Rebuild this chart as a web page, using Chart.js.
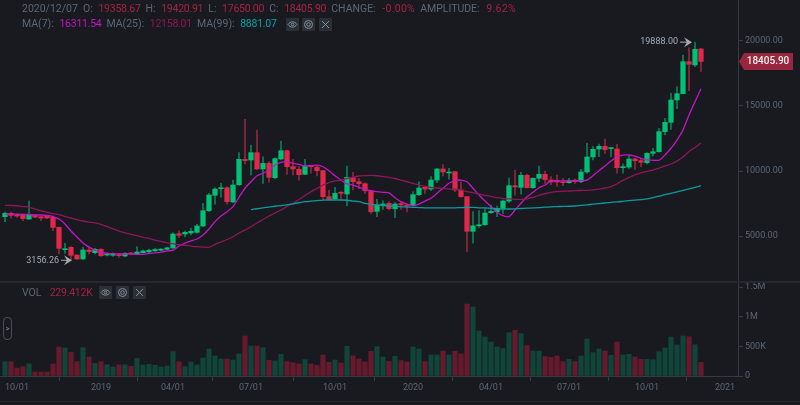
<!DOCTYPE html>
<html>
<head>
<meta charset="utf-8">
<title>BTC weekly</title>
<script src="https://cdn.jsdelivr.net/npm/chart.js@4"></script>
<style>
  html, body { margin: 0; padding: 0; background: #181a20; }
  #wrap { position: relative; width: 800px; height: 405px; overflow: hidden; background: #181a20;
          font-family: Roboto, "Open Sans", sans-serif; }
  canvas { position: absolute; left: 0; }
  #priceCanvas { top: 0; }
  #volCanvas { top: 283px; }
  .sep { position: absolute; left: 0; width: 800px; background: #25282f; }
  .row { position: absolute; left: 22px; font-size: 10.5px; line-height: 12px; color: #5e6673; white-space: nowrap; }
  .row b { font-weight: 400; color: #a5233f; margin: 0 5px 0 3px; letter-spacing: -.25px; }
  .row b.pct { letter-spacing: .3px; margin-left: 4px; }
  .btn { position: absolute; width: 13px; height: 13px; background: #2b2f36; border-radius: 1px; }
  .btn svg { display: block; }
  #expand { position: absolute; left: 3px; top: 317px; width: 7px; height: 21px; border: 1px solid #474d57;
            border-radius: 4px; color: #848e9c; font-size: 8px; line-height: 21px; text-align: center; }
</style>
</head>
<body>
<div id="wrap">
  <canvas id="priceCanvas" width="800" height="282"></canvas>
  <canvas id="volCanvas" width="800" height="122"></canvas>
  <div class="sep" style="top:281px;height:2px"></div>
  <div class="sep" style="top:401px;height:1px"></div>

  <div class="row" style="top:3px">2020/12/07&nbsp; O: <b>19358.67</b>H: <b>19420.91</b>L: <b>17650.00</b>C: <b>18405.90</b>CHANGE: <b class="pct">-0.00%</b>AMPLITUDE: <b class="pct">9.62%</b></div>
  <div class="row" style="top:18px">MA(7): <b style="color:#c414c6">16311.54</b>MA(25): <b style="color:#8f1650">12158.01</b>MA(99): <b style="color:#03a5a5">8881.07</b></div>
  <div class="row" style="top:287px">VOL&nbsp; <b>229.412K</b></div>

  <div class="btn" style="left:286px;top:18px"><svg width="13" height="13" viewBox="0 0 13 13" fill="none" stroke="#848e9c"><path d="M2 6.5c2.500-3.500 6.500-3.500 9 0c-2.500 3.500-6.500 3.500-9 0z"/><circle cx="6.500" cy="6.500" r="1.300"/></svg></div>
  <div class="btn" style="left:302px;top:18px"><svg width="13" height="13" viewBox="0 0 13 13" fill="none" stroke="#848e9c"><circle cx="6.500" cy="6.500" r="4"/><circle cx="6.500" cy="6.500" r="1.800"/></svg></div>
  <div class="btn" style="left:319px;top:18px"><svg width="13" height="13" viewBox="0 0 13 13" fill="none" stroke="#848e9c"><path d="M3 3l7 7M10 3l-7 7"/></svg></div>
  <div class="btn" style="left:99px;top:286px"><svg width="13" height="13" viewBox="0 0 13 13" fill="none" stroke="#848e9c"><path d="M2 6.5c2.500-3.500 6.500-3.500 9 0c-2.500 3.500-6.500 3.500-9 0z"/><circle cx="6.500" cy="6.500" r="1.300"/></svg></div>
  <div class="btn" style="left:116px;top:286px"><svg width="13" height="13" viewBox="0 0 13 13" fill="none" stroke="#848e9c"><circle cx="6.500" cy="6.500" r="4"/><circle cx="6.500" cy="6.500" r="1.800"/></svg></div>
  <div class="btn" style="left:133px;top:286px"><svg width="13" height="13" viewBox="0 0 13 13" fill="none" stroke="#848e9c"><path d="M3 3l7 7M10 3l-7 7"/></svg></div>
  <div id="expand">&gt;</div>
</div>

<script>
// weekly candles. first one is the week of 2018-09-17
const opens = [6500,6760,6650,6650,6320,6600,6500,6530,6450,5685,3970,4150,3560,3255,3945,3740,4000,3560,3540,3560,3485,3690,3640,3740,3800,3880,3930,4000,4100,5195,5170,5250,5300,5790,6960,8140,8650,8720,7630,8950,10900,10850,11410,10160,10590,9490,10925,11560,10335,10130,9750,10410,10290,10030,8035,7860,8340,8240,9520,9180,9030,8470,6910,7400,7525,7110,7500,7400,7400,8190,8750,8620,9310,10160,9850,9950,8550,8035,5380,5800,5885,6810,6880,7090,7700,8880,8750,9675,8720,9445,9750,9310,9290,9180,9110,9310,9180,9930,11080,11690,11900,11720,11690,10260,10310,10925,10800,10640,11360,11485,13020,13740,15450,15935,18390,18135,19358.67];
const highs = [6860,6860,6700,6700,7700,6630,6560,6570,6550,5700,4460,4200,3600,4150,4200,4075,4060,3740,3720,3690,3740,3760,4200,3950,4020,4050,4060,4170,5270,5420,5400,5630,5915,7525,8290,8720,9060,8800,9310,11410,13970,12000,13150,11100,10720,11020,12300,11600,10900,10335,10900,10420,10390,10050,8550,8750,8420,10390,9900,9445,9110,8490,7830,7725,7650,7575,7650,7470,8420,9180,8850,9570,10210,10490,10210,9960,9180,8050,6900,6960,7140,7400,7320,7780,9470,10080,9900,9775,9490,10390,10000,9570,9700,9445,9445,9390,10130,12130,11870,12075,12460,11820,12050,10540,11160,10980,10980,11410,11745,13280,14045,15960,16470,18900,19460,19888,19420.91];
const lows = [6120,6380,6450,6190,6300,6450,6200,6350,5420,3640,3690,3156.26,3230,3230,3640,3640,3450,3485,3450,3400,3420,3600,3600,3720,3750,3830,3880,3960,4080,4890,4950,5100,5225,5730,6880,7470,7990,7470,7570,8900,10540,9700,10130,9060,9140,9390,10850,9750,9700,9310,9720,9830,9620,7780,7780,7780,7830,7320,8550,8640,8290,6760,6500,7065,7010,6420,7065,6860,7320,8110,8290,8490,9110,9620,9370,8420,7990,3815,4460,5685,5840,6760,6500,6760,7600,8160,8220,8700,8680,9180,9060,8930,8850,8880,9060,9060,9110,9830,10850,11100,11360,11100,9830,9830,10210,10130,10335,10540,11160,11440,12770,13200,14780,15910,16160,18000,17650];
const closes = [6760,6600,6550,6350,6630,6470,6400,6400,5680,4075,4045,3540,3255,3945,3815,4000,3510,3610,3610,3510,3690,3640,3790,3870,3920,3980,4010,4110,5170,5070,5300,5380,5790,6960,8165,8620,8720,7650,8930,10900,10800,11410,10160,10590,9520,10950,11560,10335,10160,9720,10390,10335,10030,8035,7830,8290,8290,9520,9180,9030,8490,6880,7400,7470,7110,7470,7400,7320,8190,8700,8620,9310,10160,9930,9905,8550,8035,5380,5800,5885,6780,6910,7140,7700,8880,8780,9675,8720,9445,9750,9350,9160,9160,9110,9290,9180,9930,11080,11670,11900,11640,11770,10260,10335,10925,10800,10670,11360,11485,13020,13740,15450,15935,18390,18190,19340,18405.90];

const ma7 = [6700,6700,6700,6670,6670,6630,6630,6590,6510,6320,5940,5400,4940,4480,4170,3940,3750,3690,3660,3640,3640,3640,3610,3610,3680,3720,3790,3870,3940,4250,4480,4640,4790,5100,5560,6120,6550,6880,7270,7990,8680,9180,9640,9830,10080,10460,10670,10720,10590,10520,10390,10410,10460,10330,10030,9640,9310,9010,8930,8750,8600,8490,8420,8370,8320,7960,7650,7470,7340,7470,7700,7910,8290,8680,9060,9260,9310,9180,8680,8160,7700,7270,6840,6580,6500,7010,7530,8030,8370,8720,8930,9260,9260,9240,9240,9260,9260,9310,9640,10030,10390,10770,11100,11230,11230,11150,10980,10850,10830,10830,11230,11750,12380,13150,14300,15320,16311.54];
const ma25 = [7370,7360,7340,7280,7220,7090,6940,6840,6740,6650,6510,6400,6280,6170,6090,6020,5920,5750,5560,5400,5270,5150,5040,4920,4830,4710,4610,4500,4430,4350,4310,4250,4200,4170,4150,4370,4560,4750,4960,5250,5480,5730,6020,6280,6550,6780,7010,7280,7530,7820,8130,8420,8660,8930,9120,9240,9310,9430,9540,9620,9650,9670,9640,9580,9510,9430,9310,9180,9060,8930,8820,8740,8700,8660,8620,8620,8550,8430,8340,8240,8130,8050,7970,7910,7860,7830,7830,7860,7990,8130,8260,8360,8420,8450,8470,8500,8510,8520,8550,8620,8700,8800,9030,9280,9510,9700,9870,9980,10080,10230,10390,10540,10770,11080,11500,11810,12158.01];
// the 99 week line only starts at candle 41
const ma99Start = 41;
const ma99 = [7040,7110,7180,7240,7300,7350,7400,7490,7570,7650,7700,7740,7770,7780,7780,7780,7760,7700,7650,7530,7450,7400,7360,7320,7290,7260,7240,7220,7200,7180,7170,7170,7170,7170,7180,7200,7210,7210,7180,7170,7140,7120,7100,7090,7100,7130,7150,7170,7190,7230,7260,7270,7290,7300,7320,7370,7410,7460,7510,7550,7600,7630,7680,7730,7770,7810,7860,7960,8070,8190,8290,8400,8520,8630,8750,8881.07];

const volumes = [240000,240000,135000,158000,208000,68000,68000,68000,203000,490000,473000,400000,242000,478000,320000,214000,242000,191000,152000,186000,191000,163000,298000,186000,197000,180000,152000,169000,411000,242000,158000,236000,186000,304000,456000,338000,287000,287000,270000,372000,676000,507000,507000,478000,265000,253000,366000,242000,225000,203000,276000,203000,180000,355000,231000,270000,220000,501000,343000,287000,236000,417000,495000,321000,248000,332000,259000,236000,490000,456000,242000,355000,355000,422000,355000,417000,372000,1216000,1165000,760000,659000,574000,490000,462000,732000,771000,715000,512000,422000,422000,327000,315000,338000,242000,282000,242000,338000,625000,394000,456000,422000,349000,574000,355000,366000,321000,282000,282000,276000,411000,473000,659000,524000,676000,664000,529000,229412];

const priceTicks = [5000,10000,15000,20000];
const volTicks = [0,500000,1000000,1500000];
const volTickLabels = ["0","500K","1M","1.5M"];
const dateTickIdx = [2,16,28,41,55,68,81,94,107,120];
const dateTickLabels = ["10/01","2019","04/01","07/01","10/01","2020","04/01","07/01","10/01","2021"];

const highMark = "19888.00";
const lowMark = "3156.26";
const highMarkIdx = 115;
const lowMarkIdx = 11;

const UP = "#02c076", DOWN = "#e0294a";
const UP_WICK = "#0b7f56", DOWN_WICK = "#8e2a3e";
const UP_VOL = "#114539", DOWN_VOL = "#671a2d";
const AXIS = "#363a42", TICKTXT = "#5e6673";

Chart.defaults.font.family = "Roboto, 'Open Sans', sans-serif";
Chart.defaults.animation = false;

const isUp = i => closes[i] >= opens[i];
const idx = opens.map((_, i) => i);

// same x range on both panes so candle and volume bar line up, 6px a week
const xRange = { type: "linear", min: -5 / 6, max: 122 + 1 / 6, offset: false };

// no label padding, the pane has to fill its canvas
function fixedY(scale) {
  scale.width = 62;
  scale.paddingTop = 0;
  scale.paddingBottom = 0;
}

// last price tag and the high/low arrows
const markers = {
  id: "markers",
  afterDatasetsDraw(chart) {
    const { ctx, scales } = chart;
    const last = closes[closes.length - 1];
    const ty = scales.y.getPixelForValue(last);
    ctx.save();
    ctx.fillStyle = "#98263f";
    ctx.beginPath();
    ctx.moveTo(739, ty);
    ctx.lineTo(744, ty - 8.5);
    ctx.lineTo(793, ty - 8.5);
    ctx.lineTo(793, ty + 8.5);
    ctx.lineTo(744, ty + 8.5);
    ctx.closePath();
    ctx.fill();
    ctx.fillStyle = "#f0f0f0";
    ctx.font = "500 10px Roboto";
    ctx.textAlign = "center";
    ctx.textBaseline = "middle";
    ctx.fillText(last.toFixed(2), 768, ty + 0.5);

    ctx.fillStyle = ctx.strokeStyle = "#a5abb5";
    ctx.textAlign = "right";
    ctx.font = "9px Roboto";
    const hx = scales.x.getPixelForValue(highMarkIdx) - 3;
    const hy = scales.y.getPixelForValue(highs[highMarkIdx]);
    ctx.fillText(highMark, hx - 14, hy);
    arrow(ctx, hx - 12, hx, hy);
    const lx = scales.x.getPixelForValue(lowMarkIdx) + 1;
    const ly = scales.y.getPixelForValue(lows[lowMarkIdx]);
    ctx.fillText(lowMark, lx - 13, ly);
    arrow(ctx, lx - 11, lx, ly);
    ctx.restore();
  }
};

function arrow(ctx, x0, x1, y) {
  ctx.lineWidth = 1;
  ctx.beginPath();
  ctx.moveTo(x0, y);
  ctx.lineTo(x1 - 5, y);
  ctx.stroke();
  ctx.beginPath();
  ctx.moveTo(x1, y);
  ctx.lineTo(x1 - 8, y - 5);
  ctx.lineTo(x1 - 5, y);
  ctx.lineTo(x1 - 8, y + 5);
  ctx.closePath();
  ctx.fill();
}

function lineSet(values, color, start) {
  return {
    type: "line",
    data: values.map((v, i) => ({ x: i + start, y: v })),
    borderColor: color,
    borderWidth: 1.3,
    pointRadius: 0,
    tension: 0.25,
    order: 1
  };
}

new Chart(document.getElementById("priceCanvas"), {
  type: "bar",
  data: {
    datasets: [
      lineSet(ma99, "#0d9a9c", ma99Start),
      lineSet(ma25, "#8d1757", 0),
      lineSet(ma7, "#c414c6", 0),
      {
        data: idx.map(i => ({ x: i, y: [Math.min(opens[i], closes[i]), Math.max(opens[i], closes[i])] })),
        backgroundColor: idx.map(i => isUp(i) ? UP : DOWN),
        barThickness: 4.6,
        minBarLength: 1,
        grouped: false,
        order: 2
      },
      {
        data: idx.map(i => ({ x: i, y: [lows[i], highs[i]] })),
        backgroundColor: idx.map(i => isUp(i) ? UP_WICK : DOWN_WICK),
        barThickness: 1,
        grouped: false,
        order: 3
      }
    ]
  },
  options: {
    responsive: false,
    layout: { padding: 0 },
    plugins: { legend: { display: false }, tooltip: { enabled: false } },
    scales: {
      x: { ...xRange, display: false },
      y: {
        position: "right",
        min: 1491,
        max: 23120,
        afterFit: fixedY,
        afterBuildTicks: s => { s.ticks = priceTicks.map(v => ({ value: v })); },
        grid: { drawOnChartArea: false, color: AXIS, tickLength: 5 },
        border: { color: AXIS },
        ticks: { color: TICKTXT, font: { size: 9 }, padding: 2, callback: v => v.toFixed(2) }
      }
    }
  },
  plugins: [markers]
});

new Chart(document.getElementById("volCanvas"), {
  type: "bar",
  data: {
    datasets: [{
      data: idx.map(i => ({ x: i, y: volumes[i] })),
      backgroundColor: idx.map(i => isUp(i) ? UP_VOL : DOWN_VOL),
      barThickness: 4.5
    }]
  },
  options: {
    responsive: false,
    layout: { padding: 0 },
    plugins: { legend: { display: false }, tooltip: { enabled: false } },
    scales: {
      x: {
        ...xRange,
        afterFit: s => { s.height = 29; s.paddingLeft = 0; s.paddingRight = 0; },
        afterBuildTicks: s => { s.ticks = dateTickIdx.map(v => ({ value: v })); },
        grid: { drawOnChartArea: false, color: AXIS, tickLength: 5 },
        border: { color: AXIS },
        ticks: {
          color: TICKTXT, font: { size: 9 }, padding: 1, maxRotation: 0, autoSkip: false,
          callback: v => dateTickLabels[dateTickIdx.indexOf(v)]
        }
      },
      y: {
        position: "right",
        min: 0,
        max: 1571000,
        afterFit: fixedY,
        afterBuildTicks: s => { s.ticks = volTicks.map(v => ({ value: v })); },
        grid: { drawOnChartArea: false, color: AXIS, tickLength: 5 },
        border: { color: AXIS },
        ticks: { color: TICKTXT, font: { size: 9 }, padding: 2, callback: v => volTickLabels[volTicks.indexOf(v)] }
      }
    }
  }
});
</script>
</body>
</html>
